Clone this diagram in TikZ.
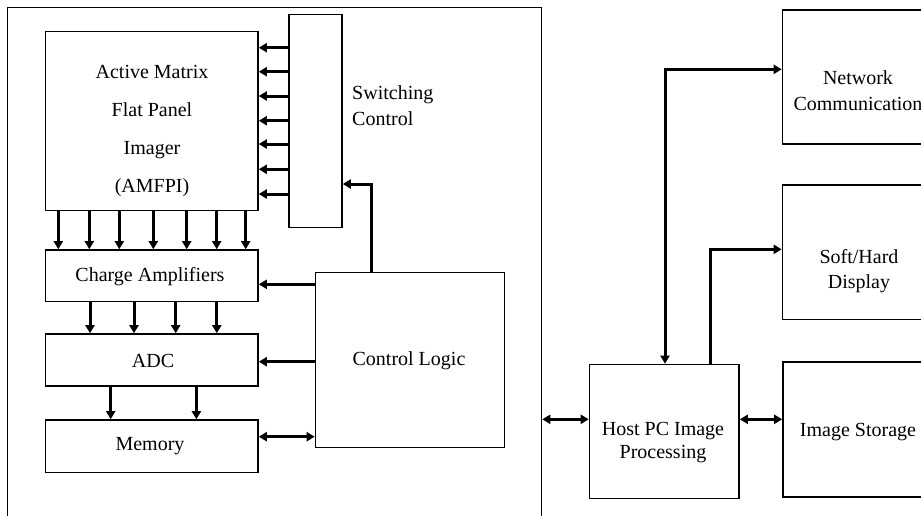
\documentclass[tikz,border=0pt]{standalone}
\usepackage{fontspec}
\setmainfont{Liberation Serif}
\usetikzlibrary{arrows.meta}
\begin{document}
\begin{tikzpicture}[x=1pt,y=-1pt,
  box/.style={draw=black, line width=1.6pt, rectangle, inner sep=0pt},
  lbl/.style={font=\fontsize{20}{24}\selectfont, inner sep=0pt, align=center},
  arr/.style={line width=3pt, -{Triangle[length=8pt,width=9pt]}},
  arrb/.style={line width=3pt, {Triangle[length=8pt,width=9pt]}-{Triangle[length=8pt,width=9pt]}}]
\clip (0,0) rectangle (921,515);
\fill[white] (0,0) rectangle (921,515);
% boxes: corners in pixels
\newcommand{\mybox}[5]{\node[box, minimum width={#4-#2}, minimum height={#5-#3}] (#1) at ({(#2+#4)/2},{(#3+#5)/2}) {};}
\mybox{outer}{7.5}{7.5}{541.5}{530}
\mybox{amfpi}{45.5}{31.5}{258}{210.5}
\mybox{sw}{289}{14.5}{342}{227.5}
\mybox{charge}{45.5}{250}{258}{301.5}
\mybox{adc}{45.5}{334}{258}{386}
\mybox{mem}{45.5}{420}{258}{472.5}
\mybox{ctrl}{315.5}{272.5}{504.5}{447.5}
\mybox{host}{589.5}{364.5}{739}{498.5}
\mybox{net}{782.5}{10}{935}{144}
\mybox{soft}{782.5}{185}{935}{319.5}
\mybox{stor}{783}{362}{935}{497}
% texts
\node[lbl, font=\fontsize{20}{38}\selectfont] (tamfpi) at (152,131) {Active Matrix\\Flat Panel\\Imager\\(AMFPI)};
\node[lbl, align=left, anchor=west, font=\fontsize{20}{26}\selectfont] (tsw) at (352,106) {Switching\\Control};
\node[lbl] (tcharge) at (150,277) {Charge Amplifiers};
\node[lbl] (tadc) at (153,361) {ADC};
\node[lbl] (tmem) at (150,446) {Memory};
\node[lbl] (tctrl) at (409,361) {Control Logic};
\node[lbl, font=\fontsize{20}{23}\selectfont] (thost) at (663,443) {Host PC Image\\Processing};
\node[lbl] (tstor) at (858,432) {Image Storage};
\node[lbl, font=\fontsize{20}{26}\selectfont] (tnet) at (858,91) {Network\\Communication};
\node[lbl, font=\fontsize{20}{25}\selectfont] (tsoft) at (859,271) {Soft/Hard\\Display};
% switching -> AMFPI
\foreach \yy in {47.7,71.7,96,120.7,144,169.3,194}
  \draw[arr] (sw.west |- 0,\yy) -- (amfpi.east |- 0,\yy);
% AMFPI -> charge
\foreach \xx in {58.3,89.3,119.3,153.3,186.7,216.7,245.7}
  \draw[arr] (amfpi.south -| \xx,0) -- (charge.north -| \xx,0);
% charge -> ADC
\foreach \xx in {90,134,175.7,216.8}
  \draw[arr] (charge.south -| \xx,0) -- (adc.north -| \xx,0);
% ADC -> memory
\foreach \xx in {110.7,196.4}
  \draw[arr] (adc.south -| \xx,0) -- (mem.north -| \xx,0);
% control logic
\draw[arr] (ctrl.north -| 371,0) -- (371,184) -- (sw.east |- 0,184);
\draw[arr] (ctrl.west |- 0,284.3) -- (charge.east |- 0,284.3);
\draw[arr] (ctrl.west |- 0,361.7) -- (adc.east |- 0,361.7);
\draw[arrb] (mem.east |- 0,436.7) -- (ctrl.west |- 0,436.7);
% host
\draw[arrb] (outer.east |- 0,419.3) -- (host.west |- 0,419.3);
\draw[arrb] (host.east |- 0,419.3) -- (stor.west |- 0,419.3);
\draw[arrb] (host.north -| 665,0) -- (665,69.3) -- (net.west |- 0,69.3);
\draw[arr] (host.north -| 710,0) -- (710,249.3) -- (soft.west |- 0,249.3);
\end{tikzpicture}
\end{document}
